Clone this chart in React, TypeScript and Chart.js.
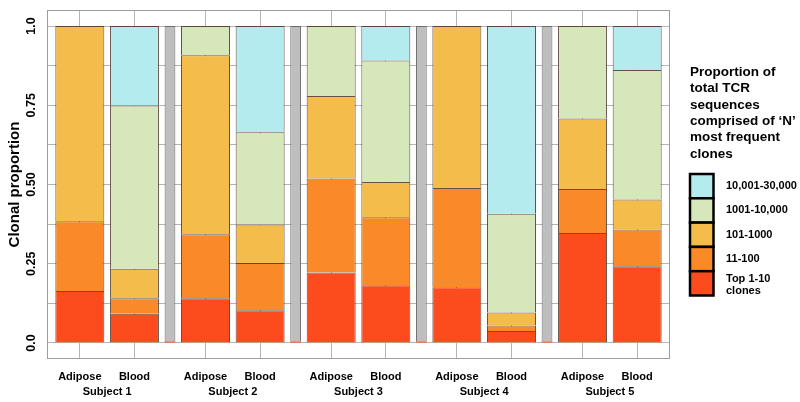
import React, { useEffect, useRef } from 'react';
import { Chart, registerables } from 'chart.js';

Chart.register(...registerables);

// ---------------- data ----------------
const subjects = ['Subject 1', 'Subject 2', 'Subject 3', 'Subject 4', 'Subject 5'];
const tissues = ['Adipose', 'Blood'];

const seriesLabels = ['Top 1-10 clones', '11-100', '101-1000', '1001-10,000', '10,001-30,000'];
const legendLabelLines = [['Top 1-10', 'clones'], ['11-100'], ['101-1000'], ['1001-10,000'], ['10,001-30,000']];
const legendTitle = ['Proportion of', 'total TCR', 'sequences', 'comprised of \u2018N\u2019', 'most frequent', 'clones'];

// bar order: S1 Adipose, S1 Blood, S2 Adipose, S2 Blood, ... S5 Blood
const top1to10 = [0.164, 0.092, 0.141, 0.103, 0.222, 0.182, 0.176, 0.038, 0.347, 0.242];
const from11to100 = [0.220, 0.049, 0.202, 0.149, 0.297, 0.215, 0.313, 0.017, 0.139, 0.116];
const from101to1000 = [0.616, 0.093, 0.565, 0.122, 0.260, 0.111, 0.511, 0.041, 0.222, 0.095];
const from1001to10000 = [0, 0.515, 0.092, 0.291, 0.221, 0.383, 0, 0.312, 0.292, 0.408];
const from10001to30000 = [0, 0.251, 0, 0.335, 0, 0.109, 0, 0.592, 0, 0.139];

// grey separator bars between subjects (with a thin red base)
const separatorRed = [0.005, 0.005, 0.005, 0.005];
const separatorGray = [0.995, 0.995, 0.995, 0.995];

const yTickValues = [0, 0.125, 0.25, 0.375, 0.5, 0.625, 0.75, 0.875, 1];
const yTickLabels = ['0.0', '', '0.25', '', '0.50', '', '0.75', '', '1.0'];

// ---------------- style ----------------
const seriesColors = ['#FC4C1E', '#F98A27', '#F4BC4B', '#D6E8BB', '#B3EBEF'];
const FONT = '"Liberation Sans", Arial, Helvetica, sans-serif';
const GRID = '#B4B4B4';
const FRAME = '#9C9C9C';

// layout in bar-width units (like R barplot width/space)
const BAR_W = 1;
const GAP = 0.115;
const SEP_W = 0.22;
const EDGE = 0.17;
const GROUP = 2 * BAR_W + SEP_W + 3 * GAP;
const barX = (s: number, t: number) => s * GROUP + BAR_W / 2 + t * (BAR_W + GAP);
const sepX = (s: number) => s * GROUP + 2 * BAR_W + 2 * GAP + SEP_W / 2;
const subjectX = (s: number) => (barX(s, 0) + barX(s, 1)) / 2;
const X_MIN = -EDGE;
const X_MAX = (subjects.length - 1) * GROUP + 2 * BAR_W + GAP + EDGE;
const MIN_STEP = BAR_W / 2 + GAP + SEP_W / 2;

const barPositions = subjects.flatMap((_, s) => tissues.map((__, t) => barX(s, t)));

Chart.defaults.font.family = FONT;
Chart.defaults.color = '#000';

const framePlugin = {
  id: 'frameAndLegend',
  afterDraw(chart: any) {
    const { ctx, chartArea } = chart;
    ctx.save();
    // frame
    ctx.strokeStyle = FRAME;
    ctx.lineWidth = 1;
    const l = Math.round(chartArea.left) + 0.5;
    const t = Math.round(chartArea.top) + 0.5;
    const r = Math.round(chartArea.right) - 0.5;
    const b = Math.round(chartArea.bottom) - 0.5;
    ctx.strokeRect(l, t, r - l, b - t);

    // legend
    const left = chartArea.right + 20;
    ctx.fillStyle = '#000';
    ctx.textAlign = 'left';
    ctx.textBaseline = 'alphabetic';
    ctx.font = `bold 13.5px ${FONT}`;
    legendTitle.forEach((line, i) => {
      ctx.fillText(line, left, chartArea.top + 66 + i * 16.3);
    });
    const items = chart.data.datasets.filter((d: any) => d.inLegend);
    const boxW = 23.5;
    const boxH = 24.3;
    const boxTop = chartArea.top + 164;
    const n = items.length;
    ctx.font = `bold 11px ${FONT}`;
    ctx.textBaseline = 'middle';
    for (let k = n - 1; k >= 0; k--) {
      const ds = items[k];
      const row = n - 1 - k;
      const y = boxTop + row * boxH;
      ctx.fillStyle = ds.backgroundColor;
      ctx.fillRect(left, y, boxW, boxH);
      ctx.lineWidth = 2.5;
      ctx.strokeStyle = '#000';
      ctx.strokeRect(left, y, boxW, boxH);
      const lines = ds.legendLines as string[];
      ctx.fillStyle = '#000';
      const lh = 12;
      const cy = y + boxH / 2 - ((lines.length - 1) * lh) / 2 + (lines.length > 1 ? 2 : 0);
      lines.forEach((txt, j) => ctx.fillText(txt, left + 36, cy + j * lh));
    }
    ctx.restore();
  },
};

export default function App() {
  const ref = useRef<HTMLCanvasElement>(null);

  useEffect(() => {
    if (!ref.current) return;
    const seriesValues = [top1to10, from11to100, from101to1000, from1001to10000, from10001to30000];
    const datasets: any[] = seriesValues.map((vals, k) => ({
      label: seriesLabels[k],
      legendLines: legendLabelLines[k],
      inLegend: true,
      data: vals.map((v, i) => ({ x: barPositions[i], y: v > 0 ? v : null })),
      backgroundColor: seriesColors[k],
      borderColor: 'rgba(75,50,35,0.85)',
      borderWidth: 1,
      categoryPercentage: 1,
      barPercentage: BAR_W / MIN_STEP,
    }));
    datasets.push({
      label: 'separator base',
      data: separatorRed.map((v, s) => ({ x: sepX(s), y: v })),
      backgroundColor: seriesColors[0],
      borderWidth: 0,
      categoryPercentage: 1,
      barPercentage: SEP_W / MIN_STEP,
    });
    datasets.push({
      label: 'separator',
      data: separatorGray.map((v, s) => ({ x: sepX(s), y: v })),
      backgroundColor: '#BEBEBE',
      borderColor: '#6A6A6A',
      borderWidth: 1,
      categoryPercentage: 1,
      barPercentage: SEP_W / MIN_STEP,
    });

    const chart = new Chart(ref.current, {
      type: 'bar',
      data: { datasets },
      plugins: [framePlugin],
      options: {
        responsive: false,
        animation: false,
        devicePixelRatio: 1,
        layout: { padding: { left: 0, top: 10, right: 130, bottom: 0 } },
        plugins: {
          legend: { display: false },
          tooltip: { enabled: false },
        },
        scales: {
          x: {
            type: 'linear',
            position: 'bottom',
            min: X_MIN,
            max: X_MAX,
            stacked: true,
            offset: false,
            weight: 0,
            grid: { offset: false, color: GRID, lineWidth: 1, drawTicks: false },
            border: { display: false },
            afterBuildTicks: (sc: any) => {
              sc.ticks = barPositions.map((v) => ({ value: v }));
            },
            afterFit: (sc: any) => {
              sc.height = 25;
            },
            ticks: {
              autoSkip: false,
              maxRotation: 0,
              minRotation: 0,
              padding: 11,
              color: '#000',
              font: { family: FONT, size: 11, weight: 'bold' },
              callback: (_v: any, i: number) => tissues[i % tissues.length],
            },
          },
          xs: {
            type: 'linear',
            position: 'bottom',
            min: X_MIN,
            max: X_MAX,
            offset: false,
            weight: 1,
            grid: { display: false, offset: false, drawTicks: false },
            border: { display: false },
            afterBuildTicks: (sc: any) => {
              sc.ticks = subjects.map((_, s) => ({ value: subjectX(s) }));
            },
            afterFit: (sc: any) => {
              sc.height = 18;
            },
            ticks: {
              autoSkip: false,
              maxRotation: 0,
              minRotation: 0,
              padding: 1,
              color: '#000',
              font: { family: FONT, size: 11, weight: 'bold' },
              callback: (_v: any, i: number) => subjects[i],
            },
          },
          y: {
            type: 'linear',
            min: -0.0505,
            max: 1.0505,
            stacked: true,
            grid: { color: GRID, lineWidth: 1, drawTicks: false },
            border: { display: false },
            afterBuildTicks: (sc: any) => {
              sc.ticks = yTickValues.map((v) => ({ value: v }));
            },
            afterFit: (sc: any) => {
              sc.width = 47;
            },
            ticks: {
              minRotation: 90,
              maxRotation: 90,
              crossAlign: 'center',
              padding: 3,
              color: '#000',
              font: { family: FONT, size: 12.5, weight: 'bold', lineHeight: 1 },
              callback: (_v: any, i: number) => yTickLabels[i],
            },
            title: {
              display: true,
              text: 'Clonal proportion',
              color: '#000',
              font: { family: FONT, size: 15, weight: 'bold' },
              padding: { top: 6, bottom: 0 },
            },
          },
        },
      } as any,
    });
    return () => chart.destroy();
  }, []);

  return (
    <div style={{ position: 'absolute', left: 0, top: 0, width: 800, height: 402, background: '#fff' }}>
      <canvas ref={ref} width={800} height={402} style={{ display: 'block' }} />
    </div>
  );
}
